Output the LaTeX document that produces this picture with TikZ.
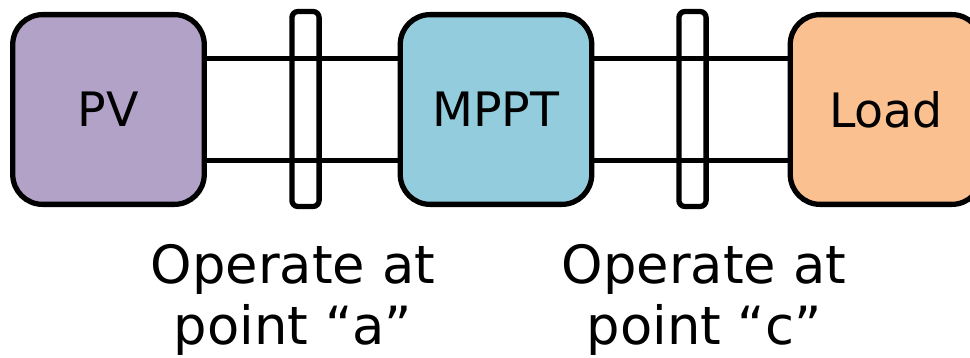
\documentclass[tikz,border=0pt]{standalone}
\usepackage{fontspec}
\setmainfont{DejaVu Sans}
\usetikzlibrary{positioning}
\definecolor{pvpurple}{HTML}{B3A2C7}
\definecolor{mpptblue}{HTML}{93CDDD}
\definecolor{loadorange}{HTML}{FAC090}
\tikzset
{
	blocknode/.style = {rectangle, draw=black, line width=3pt, rounded corners=17pt, align=center, minimum width=109pt, minimum height=108pt, font=\fontsize{27}{30}\selectfont},
	termnode/.style  = {rectangle, draw=black, line width=3pt, rounded corners=3.5pt, minimum width=15.5pt, minimum height=111pt},
	wire/.style      = {line width=3.2pt},
	opnote/.style    = {align=center, inner sep=0pt, font=\fontsize{30}{35}\selectfont}
}
\begin{document}
\begin{tikzpicture}[x=0.02cm, y=-0.02cm]
\useasboundingbox (0,0) rectangle (970,358);
\node[blocknode, fill=pvpurple] (pv) at (108.5,109.5) {PV};
\node[blocknode, fill=mpptblue] (mppt) at (496,109.5) {MPPT};
\node[blocknode, fill=loadorange] (load) at (886,109.5) {Load};
% wires between the blocks
\draw[wire] ([yshift=29pt]pv.east) -- ([yshift=29pt]mppt.west);
\draw[wire] ([yshift=-29pt]pv.east) -- ([yshift=-29pt]mppt.west);
\draw[wire] ([yshift=29pt]mppt.east) -- ([yshift=29pt]load.west);
\draw[wire] ([yshift=-29pt]mppt.east) -- ([yshift=-29pt]load.west);
% terminals
\node[termnode] (terma) at (305.5,109) {};
\node[termnode] (termc) at (692.5,109) {};
\node[opnote] (nota) at (293,300) {Operate at\\point “a”};
\node[opnote] (notc) at (704,300) {Operate at\\point “c”};
\end{tikzpicture}
\end{document}
